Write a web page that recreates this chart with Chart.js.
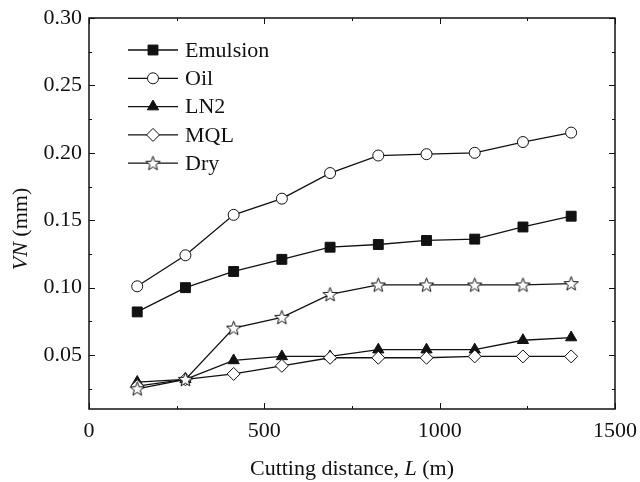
<!DOCTYPE html>
<html>
<head>
<meta charset="utf-8">
<script src="https://cdn.jsdelivr.net/npm/chart.js@4.4.1/dist/chart.umd.min.js"></script>
<style>
    html, body { margin: 0; padding: 0; background: #fff; }
    #wrap { width: 640px; height: 482px; }
    .probe { position: absolute; left: -999px; font: 22px "Liberation Serif"; }
</style>
</head>
<body>
<span class="probe">0.30 Emulsion <i>L</i></span>
<div id="wrap"><canvas id="chart" width="640" height="482"></canvas></div>
<script>
const distances = [137.5, 275, 412.5, 550, 687.5, 825, 962.5, 1100, 1237.5, 1375];
const emulsion = [0.082, 0.100, 0.112, 0.121, 0.130, 0.132, 0.135, 0.136, 0.145, 0.153];
const oil = [0.101, 0.124, 0.154, 0.166, 0.185, 0.198, 0.199, 0.200, 0.208, 0.215];
const ln2 = [0.030, 0.032, 0.046, 0.049, 0.049, 0.054, 0.054, 0.054, 0.061, 0.063];
const mql = [0.027, 0.032, 0.036, 0.042, 0.048, 0.048, 0.048, 0.049, 0.049, 0.049];
const dry = [0.025, 0.032, 0.070, 0.078, 0.095, 0.102, 0.102, 0.102, 0.102, 0.103];
const seriesNames = ["Emulsion", "Oil", "LN2", "MQL", "Dry"];
const xTicks = [0, 500, 1000, 1500];
const yTicks = [0.05, 0.10, 0.15, 0.20, 0.25, 0.30];

const ink = "#111";
const serif = '"Liberation Serif", "Times New Roman", Times, serif';

// five point open star, Chart.js "star" is an asterisk so build our own
const starImage = (r) => {
    const size = Math.ceil(r * 2 + 4);
    const c = document.createElement("canvas");
    c.width = size;
    c.height = size;
    const g = c.getContext("2d");
    g.beginPath();
    for (let i = 0; i < 10; i++) {
        const rr = i % 2 ? r * 0.42 : r;
        const a = -Math.PI / 2 + (i * Math.PI) / 5;
        g.lineTo(size / 2 + rr * Math.cos(a), size / 2 + 0.5 + rr * Math.sin(a));
    }
    g.closePath();
    g.fillStyle = "#fff";
    g.fill();
    g.strokeStyle = ink;
    g.lineWidth = 1;
    g.stroke();
    return c;
};
const star = starImage(7.5);

const styles = [
    { pointStyle: "rect", radius: 7, fill: ink },
    { pointStyle: "circle", radius: 5.5, fill: "#fff" },
    { pointStyle: "triangle", radius: 6.5, fill: ink },
    { pointStyle: "rectRot", radius: 6.5, fill: "#fff" },
    { pointStyle: star, radius: 7.5, fill: "#fff" },
];

const values = [emulsion, oil, ln2, mql, dry];
const datasets = values.map((vals, i) => ({
    label: seriesNames[i],
    data: vals.map((v, j) => ({ x: distances[j], y: v })),
    borderColor: ink,
    borderWidth: 1.3,
    backgroundColor: styles[i].fill,
    pointStyle: styles[i].pointStyle,
    pointRadius: styles[i].radius,
    pointBackgroundColor: styles[i].fill,
    pointBorderColor: ink,
    pointBorderWidth: 1,
    tension: 0,
    fill: false,
    order: 5 - i,
}));

const framePlugin = {
    id: "frame",
    afterDraw(chart) {
        const { ctx, chartArea: a, scales: { x, y } } = chart;
        ctx.save();
        ctx.strokeStyle = ink;
        ctx.lineWidth = 1.5;
        ctx.strokeRect(a.left, a.top, a.right - a.left, a.bottom - a.top);

        ctx.lineWidth = 1;
        ctx.beginPath();
        for (let v = 0; v <= 1500; v += 250) {
            const px = Math.round(x.getPixelForValue(v)) + 0.5;
            const len = v % 500 === 0 ? 6 : 3;
            ctx.moveTo(px, a.bottom);
            ctx.lineTo(px, a.bottom - len);
            ctx.moveTo(px, a.top);
            ctx.lineTo(px, a.top + len);
        }
        for (let k = 1; k <= 12; k++) {
            const v = k * 0.025;
            const py = Math.round(y.getPixelForValue(v)) + 0.5;
            const len = k % 2 === 0 ? 6 : 3;
            ctx.moveTo(a.left, py);
            ctx.lineTo(a.left + len, py);
            ctx.moveTo(a.right, py);
            ctx.lineTo(a.right - len, py);
        }
        ctx.stroke();

        // legend, line with marker in the middle
        ctx.textBaseline = "middle";
        ctx.textAlign = "left";
        chart.data.datasets.forEach((ds, i) => {
            const rowY = 50 + i * 28.3;
            ctx.strokeStyle = ink;
            ctx.lineWidth = 1.3;
            ctx.beginPath();
            ctx.moveTo(128, rowY);
            ctx.lineTo(178, rowY);
            ctx.stroke();
            ctx.fillStyle = ds.pointBackgroundColor;
            ctx.lineWidth = 1;
            Chart.helpers.drawPoint(ctx, {
                pointStyle: ds.pointStyle,
                radius: ds.pointRadius,
                rotation: 0,
                borderWidth: 1,
            }, 153, rowY);
            ctx.fillStyle = ink;
            ctx.font = `22px ${serif}`;
            ctx.fillText(ds.label, 185, rowY + 1);
        });

        // axis titles with italic symbols
        const drawParts = (parts, cx, cy) => {
            let total = 0;
            parts.forEach((p) => {
                ctx.font = `${p[1] ? "italic " : ""}22px ${serif}`;
                total += ctx.measureText(p[0]).width;
            });
            let cur = cx - total / 2;
            parts.forEach((p) => {
                ctx.font = `${p[1] ? "italic " : ""}22px ${serif}`;
                ctx.fillText(p[0], cur, cy);
                cur += ctx.measureText(p[0]).width;
            });
        };
        ctx.fillStyle = ink;
        ctx.textBaseline = "alphabetic";
        drawParts([["Cutting distance, ", false], ["L", true], [" (m)", false]], (a.left + a.right) / 2, 475);
        ctx.save();
        ctx.translate(27, 229);
        ctx.rotate(-Math.PI / 2);
        drawParts([["VN", true], [" (mm)", false]], 0, 0);
        ctx.restore();
        ctx.restore();
    },
};

const draw = () => new Chart(document.getElementById("chart"), {
    type: "line",
    data: { datasets },
    options: {
        responsive: false,
        devicePixelRatio: 1,
        animation: false,
        layout: { padding: { top: 18, right: 25, left: 0, bottom: 0 } },
        plugins: {
            legend: { display: false },
            tooltip: { enabled: false },
        },
        scales: {
            x: {
                type: "linear",
                min: 0,
                max: 1500,
                grid: { display: false, drawTicks: false },
                border: { display: false },
                afterBuildTicks: (s) => { s.ticks = xTicks.map((v) => ({ value: v })); },
                afterFit: (s) => {
                    s.height = 73;
                    s.paddingLeft = 0;
                    s.paddingRight = 0;
                },
                ticks: {
                    padding: 9,
                    maxRotation: 0,
                    color: ink,
                    font: { family: serif, size: 22 },
                    callback: (v) => String(v),
                },
            },
            y: {
                min: 0.01,
                max: 0.30,
                grid: { display: false, drawTicks: false },
                border: { display: false },
                afterBuildTicks: (s) => { s.ticks = yTicks.map((v) => ({ value: v })); },
                afterFit: (s) => {
                    s.width = 89;
                    s.paddingTop = 0;
                    s.paddingBottom = 0;
                },
                ticks: {
                    padding: 7,
                    color: ink,
                    font: { family: serif, size: 22 },
                    callback: (v) => v.toFixed(2),
                },
            },
        },
    },
    plugins: [framePlugin],
});

Promise.all([
    document.fonts.load('22px "Liberation Serif"'),
    document.fonts.load('italic 22px "Liberation Serif"'),
]).then(draw, draw);
</script>
</body>
</html>
